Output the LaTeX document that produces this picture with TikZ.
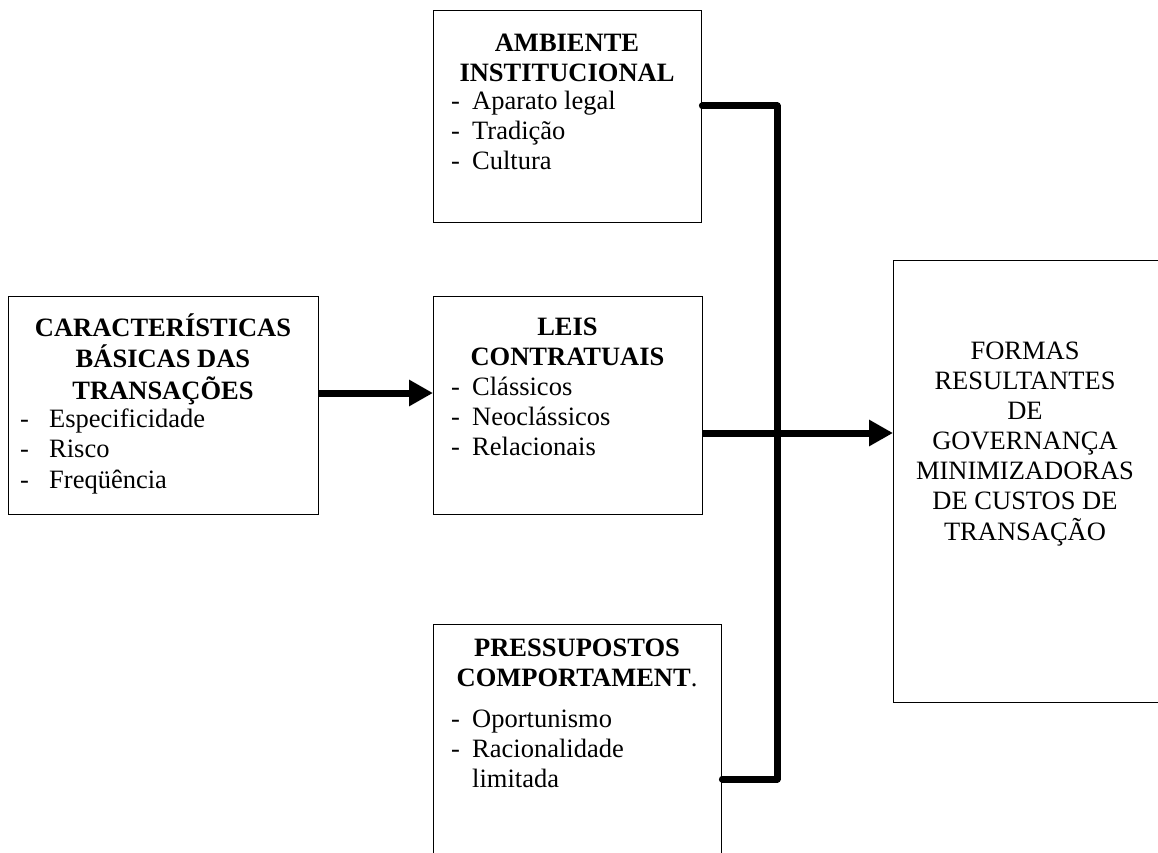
\documentclass[tikz,border=0pt]{standalone}
\usepackage{fontspec}
\setmainfont{Liberation Serif}
\usetikzlibrary{arrows.meta}
% list entries: hyphen set in a fixed-width box, then the text
\newcommand\dashitem[2][21pt]{\makebox[#1][l]{-}#2}
\begin{document}
\begin{tikzpicture}[x=1pt,y=-1pt,
  box/.style={draw=black, line width=1.4pt, rectangle, inner sep=0pt, anchor=north west},
  txt/.style={inner sep=0pt, font=\fontsize{26.5}{30}\selectfont},
  bus/.style={line width=7pt, line cap=round, line join=round},
  arr/.style={line width=7pt, -{Triangle[length=24pt,width=25pt]}}]
\useasboundingbox (0,0) rectangle (1158,853);

% boxes
\node[box, minimum width=310pt, minimum height=218pt] (chars) at (8,296) {};
\node[box, minimum width=268pt, minimum height=212pt] (amb) at (433,10) {};
\node[box, minimum width=269pt, minimum height=218pt] (leis) at (433,296) {};
\node[box, minimum width=288pt, minimum height=262pt] (press) at (433,624) {};
\node[box, minimum width=280pt, minimum height=442pt] (formas) at (893,260) {};

% texts
\node[txt, anchor=base] (charsT) at (163,336)
  {\begin{tabular}[t]{@{}c@{}}\bfseries CARACTERÍSTICAS\\ \bfseries BÁSICAS DAS\\ \bfseries TRANSAÇÕES\end{tabular}};
\node[txt, anchor=base west] (charsL) at (20,427)
  {\begin{tabular}[t]{@{}l@{}}\dashitem[29pt]{Especificidade}\\ \dashitem[29pt]{Risco}\\[1pt] \dashitem[29pt]{Freqüência}\end{tabular}};

\node[txt, anchor=base] (ambT) at (567,52)
  {\begin{tabular}[t]{@{}c@{}}\bfseries AMBIENTE\\ \bfseries INSTITUCIONAL\end{tabular}};
\node[txt, anchor=base west] (ambL) at (451,110)
  {\begin{tabular}[t]{@{}l@{}}\dashitem{Aparato legal}\\ \dashitem{Tradição}\\ \dashitem{Cultura}\end{tabular}};

\node[txt, anchor=base] (leisT) at (567.5,335)
  {\begin{tabular}[t]{@{}c@{}}\bfseries LEIS\\ \bfseries CONTRATUAIS\end{tabular}};
\node[txt, anchor=base west] (leisL) at (451,395)
  {\begin{tabular}[t]{@{}l@{}}\dashitem{Clássicos}\\ \dashitem{Neoclássicos}\\ \dashitem{Relacionais}\end{tabular}};

\node[txt, anchor=base] (pressT) at (577,656)
  {\begin{tabular}[t]{@{}c@{}}\bfseries PRESSUPOSTOS\\ {\bfseries COMPORTAMENT}.\end{tabular}};
\node[txt, anchor=base west] (pressL) at (451,727)
  {\begin{tabular}[t]{@{}l@{}}\dashitem{Oportunismo}\\ \dashitem{Racionalidade}\\ \hspace*{21pt}limitada\end{tabular}};

\node[txt, anchor=base] (formasT) at (1025,359)
  {\begin{tabular}[t]{@{}c@{}}FORMAS\\ RESULTANTES\\ DE\\ GOVERNANÇA\\ MINIMIZADORAS\\ DE CUSTOS DE\\ TRANSAÇÃO\end{tabular}};

% connectors
\coordinate (busN) at (777,106);
\coordinate (busS) at (777,779);
\draw[bus] (amb.east |- busN) -- (busN) -- (busS) -- (press.east |- busS);
\draw[arr] (chars.east |- 0,393) -- (leis.west |- 0,393);
\draw[arr] (leis.east |- 0,433) -- (formas.west |- 0,433);
\end{tikzpicture}
\end{document}
